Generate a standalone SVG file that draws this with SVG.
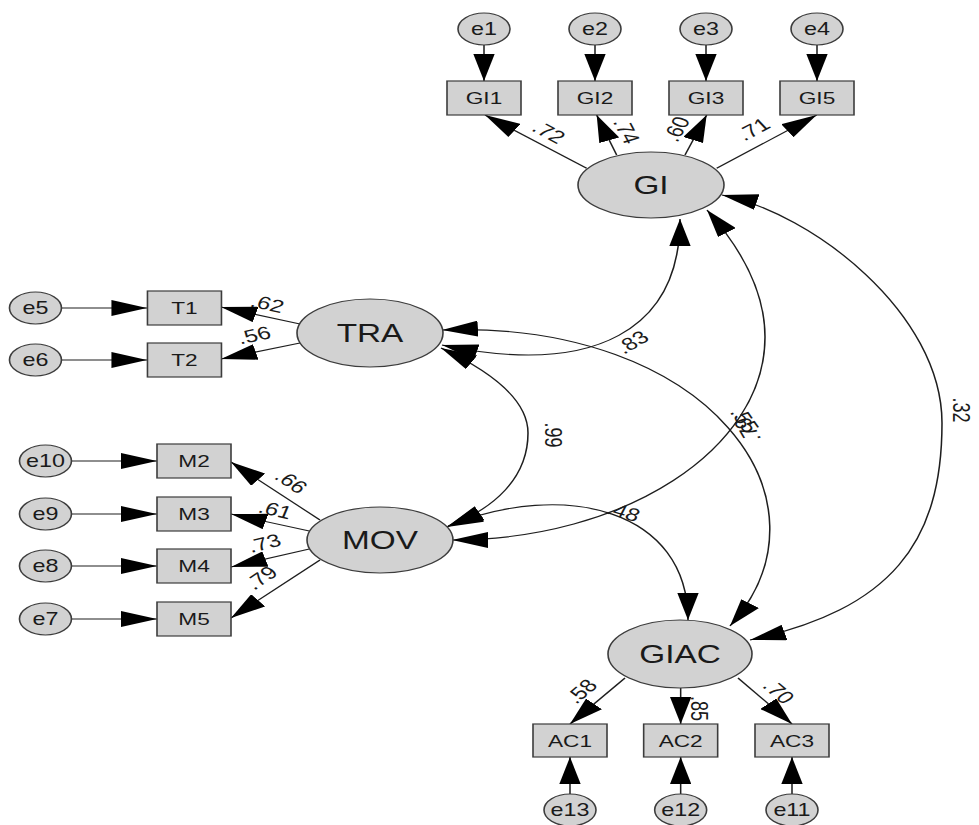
<svg xmlns="http://www.w3.org/2000/svg" width="979" height="825" viewBox="0 0 979 825">
<defs>
<style>
.n{fill:#d2d2d2;stroke:#3c3c3c;stroke-width:1.2}
.c{fill:none;stroke:#1e1e1e;stroke-width:1.15}
.t{font-family:"Liberation Sans",Arial,sans-serif;fill:#1a1a1a;text-anchor:middle}
.s{font-size:17px}
.e{font-size:17.5px}
.b{font-size:25px}
.l{font-size:18px}
.a{marker-end:url(#ah)}
.d{marker-start:url(#ah);marker-end:url(#ah)}
</style>
<marker id="ah" viewBox="0 0 27 16" refX="27" refY="8" markerWidth="27" markerHeight="16" markerUnits="userSpaceOnUse" orient="auto-start-reverse">
<path d="M0,0 L27,8 L0,16 z" fill="#000"/>
</marker>
</defs>
<rect width="979" height="825" fill="#fff"/>
<g transform="scale(1.333333 1)">
<g id="connectors">
<path class="c a" d="M363,45 L363,81"/>
<path class="c a" d="M446.25,45 L446.25,81"/>
<path class="c a" d="M529.5,45 L529.5,81"/>
<path class="c a" d="M612.75,45 L612.75,81"/>
<path class="c a" d="M46.1,308 L110.6,308"/>
<path class="c a" d="M46.1,360 L110.6,360"/>
<path class="c a" d="M53.6,461 L117.75,461"/>
<path class="c a" d="M53.6,514 L117.75,514"/>
<path class="c a" d="M53.6,566 L117.75,566"/>
<path class="c a" d="M53.6,619 L117.75,619"/>
<path class="c a" d="M427.5,794 L427.5,757"/>
<path class="c a" d="M510.5,794 L510.5,757"/>
<path class="c a" d="M594,794 L594,757"/>
<path class="c a" d="M440,168.3 L363.75,115"/>
<path class="c a" d="M462.5,155 L447.5,115"/>
<path class="c a" d="M513.75,155 L530,115"/>
<path class="c a" d="M537.5,168.3 L612.5,115"/>
<path class="c a" d="M225,324 L165.75,307"/>
<path class="c a" d="M225,343 L165.75,359"/>
<path class="c a" d="M240,520 L173.25,462"/>
<path class="c a" d="M232,531 L173.25,514"/>
<path class="c a" d="M232,549 L173.25,567"/>
<path class="c a" d="M240,560 L173.25,618"/>
<path class="c a" d="M468.75,678 L427.5,724"/>
<path class="c a" d="M510.5,688 L510.5,724"/>
<path class="c a" d="M553.5,678 L594,724"/>
<path class="c d" d="M510,219 C510,329 447.1,377.4 331.5,345"/>
<path class="c d" d="M530.25,210 C552.45,243.3 573.75,287 573.75,337 C573.75,449.1 468.65,540 339,540"/>
<path class="c d" d="M541.5,195 C609.1,213.1 706.5,313 706.5,423 C706.5,543 668.2,609.5 562.5,640"/>
<path class="c d" d="M330.75,348 C364.75,369.2 396,398 396,433 C396,478 370.8,508.6 335.25,527"/>
<path class="c d" d="M331.5,330 C531.5,320 631.5,501.5 547.5,626"/>
<path class="c d" d="M336,526 C424.2,479 516,510 516,620"/>
<g class="t l">
<text transform="translate(411.75,132) rotate(35.3)" dy="0.36em">.72</text>
<text transform="translate(470.25,131) rotate(68.3)" dy="0.36em">.74</text>
<text transform="translate(507,129) rotate(-66.6)" dy="0.36em">.60</text>
<text transform="translate(564.9,129) rotate(-35.3)" dy="0.36em">.71</text>
<text transform="translate(200.6,303.5) rotate(16.6)" dy="0.36em">.62</text>
<text transform="translate(190.5,335) rotate(-15.7)" dy="0.36em">.56</text>
<text transform="translate(218.6,481.5) rotate(42)" dy="0.36em">.66</text>
<text transform="translate(206.6,509.5) rotate(17.3)" dy="0.36em">.61</text>
<text transform="translate(198,543) rotate(-18.3)" dy="0.36em">.73</text>
<text transform="translate(195.75,577.5) rotate(-41.8)" dy="0.36em">.79</text>
<text transform="translate(435.75,691) rotate(-48.2)" dy="0.36em">.58</text>
<text transform="translate(525,708.5) rotate(90)" dy="0.36em">.85</text>
<text transform="translate(584.25,691.5) rotate(48.2)" dy="0.36em">.70</text>
<text transform="translate(474,342) rotate(-37.6)" dy="0.36em">.83</text>
<text transform="translate(415.5,435) rotate(90)" dy="0.36em">.99</text>
<text transform="translate(467.6,511.5) rotate(21.4)" dy="0.36em">.48</text>
<text transform="translate(721.1,410) rotate(90)" dy="0.36em">.32</text>
<text transform="translate(558.75,420) rotate(62.3)" dy="0.36em">.55</text>
<text transform="translate(560.25,430) rotate(-113.4)" dy="0.36em">.79</text>
</g>
</g>
<g id="e1"><ellipse class="n" cx="363" cy="29" rx="19.5" ry="16"/><text class="t e" x="363" y="29" dy="0.36em">e1</text></g>
<g id="e2"><ellipse class="n" cx="446.25" cy="29" rx="19.5" ry="16"/><text class="t e" x="446.25" y="29" dy="0.36em">e2</text></g>
<g id="e3"><ellipse class="n" cx="529.5" cy="29" rx="19.5" ry="16"/><text class="t e" x="529.5" y="29" dy="0.36em">e3</text></g>
<g id="e4"><ellipse class="n" cx="612.75" cy="29" rx="19.5" ry="16"/><text class="t e" x="612.75" y="29" dy="0.36em">e4</text></g>
<g id="GI1"><rect class="n" x="335.25" y="81" width="55.5" height="34"/><text class="t s" x="363" y="98" dy="0.36em">GI1</text></g>
<g id="GI2"><rect class="n" x="418.5" y="81" width="55.5" height="34"/><text class="t s" x="446.25" y="98" dy="0.36em">GI2</text></g>
<g id="GI3"><rect class="n" x="501.75" y="81" width="55.5" height="34"/><text class="t s" x="529.5" y="98" dy="0.36em">GI3</text></g>
<g id="GI5"><rect class="n" x="585" y="81" width="55.5" height="34"/><text class="t s" x="612.75" y="98" dy="0.36em">GI5</text></g>
<g id="GI"><ellipse class="n" cx="488.25" cy="185" rx="54.75" ry="33"/><text class="t b" x="488.25" y="185" dy="0.36em">GI</text></g>
<g id="TRA"><ellipse class="n" cx="277.5" cy="333" rx="54.75" ry="34"/><text class="t b" x="277.5" y="333" dy="0.36em">TRA</text></g>
<g id="T1"><rect class="n" x="110.6" y="291" width="55.5" height="34"/><text class="t s" x="138.35" y="308" dy="0.36em">T1</text></g>
<g id="T2"><rect class="n" x="110.6" y="343" width="55.5" height="34"/><text class="t s" x="138.35" y="360" dy="0.36em">T2</text></g>
<g id="e5"><ellipse class="n" cx="26.6" cy="308" rx="19.5" ry="16"/><text class="t e" x="26.6" y="308" dy="0.36em">e5</text></g>
<g id="e6"><ellipse class="n" cx="26.6" cy="360" rx="19.5" ry="16"/><text class="t e" x="26.6" y="360" dy="0.36em">e6</text></g>
<g id="MOV"><ellipse class="n" cx="285" cy="540" rx="54.75" ry="33"/><text class="t b" x="285" y="540" dy="0.36em">MOV</text></g>
<g id="M2"><rect class="n" x="117.75" y="444" width="55.5" height="34"/><text class="t s" x="145.5" y="461" dy="0.36em">M2</text></g>
<g id="M3"><rect class="n" x="117.75" y="497" width="55.5" height="34"/><text class="t s" x="145.5" y="514" dy="0.36em">M3</text></g>
<g id="M4"><rect class="n" x="117.75" y="549" width="55.5" height="34"/><text class="t s" x="145.5" y="566" dy="0.36em">M4</text></g>
<g id="M5"><rect class="n" x="117.75" y="602" width="55.5" height="34"/><text class="t s" x="145.5" y="619" dy="0.36em">M5</text></g>
<g id="e10"><ellipse class="n" cx="34.1" cy="461" rx="19.5" ry="16"/><text class="t e" x="34.1" y="461" dy="0.36em">e10</text></g>
<g id="e9"><ellipse class="n" cx="34.1" cy="514" rx="19.5" ry="16"/><text class="t e" x="34.1" y="514" dy="0.36em">e9</text></g>
<g id="e8"><ellipse class="n" cx="34.1" cy="566" rx="19.5" ry="16"/><text class="t e" x="34.1" y="566" dy="0.36em">e8</text></g>
<g id="e7"><ellipse class="n" cx="34.1" cy="619" rx="19.5" ry="16"/><text class="t e" x="34.1" y="619" dy="0.36em">e7</text></g>
<g id="GIAC"><ellipse class="n" cx="510" cy="654" rx="54" ry="34"/><text class="t b" x="510" y="654" dy="0.36em">GIAC</text></g>
<g id="AC1"><rect class="n" x="399.75" y="724" width="55.5" height="33"/><text class="t s" x="427.5" y="740.5" dy="0.36em">AC1</text></g>
<g id="AC2"><rect class="n" x="482.75" y="724" width="55.5" height="33"/><text class="t s" x="510.5" y="740.5" dy="0.36em">AC2</text></g>
<g id="AC3"><rect class="n" x="566.25" y="724" width="55.5" height="33"/><text class="t s" x="594" y="740.5" dy="0.36em">AC3</text></g>
<g id="e13"><ellipse class="n" cx="427.5" cy="810" rx="19.5" ry="16"/><text class="t e" x="427.5" y="810" dy="0.36em">e13</text></g>
<g id="e12"><ellipse class="n" cx="510.5" cy="810" rx="19.5" ry="16"/><text class="t e" x="510.5" y="810" dy="0.36em">e12</text></g>
<g id="e11"><ellipse class="n" cx="594" cy="810" rx="19.5" ry="16"/><text class="t e" x="594" y="810" dy="0.36em">e11</text></g>
</g>
</svg>
